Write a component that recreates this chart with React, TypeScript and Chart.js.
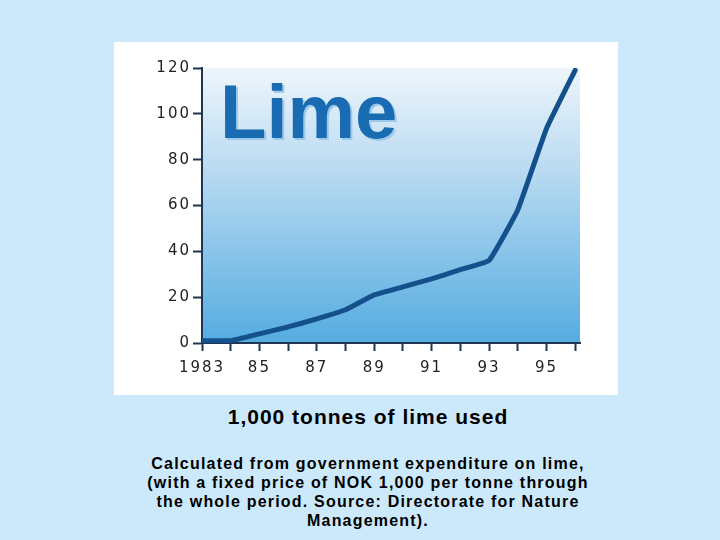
import { useEffect, useRef } from "react"
import { Chart, type ChartConfiguration, registerables } from "chart.js"

Chart.register(...registerables)

const years = [1983, 1984, 1985, 1986, 1987, 1988, 1989, 1990, 1991, 1992, 1993, 1994, 1995, 1996]
const limeUsed = [1, 1, 4, 7, 10.5, 14.5, 21, 24.5, 28, 32, 36, 58, 93.5, 119]
const xTickLabels = ["1983", "", "85", "", "87", "", "89", "", "91", "", "93", "", "95", ""]
const yTicks = [0, 20, 40, 60, 80, 100, 120]

const axisColor = "#1f3550"
const labelColor = "#222222"

const plotBackground = {
  id: "plotBackground",
  beforeDraw(chart: Chart) {
    const { ctx, chartArea } = chart
    if (!chartArea) return
    const g = ctx.createLinearGradient(0, chartArea.top, 0, chartArea.bottom)
    g.addColorStop(0, "#eef5fb")
    g.addColorStop(0.35, "#bcdcf2")
    g.addColorStop(1, "#55ace0")
    ctx.save()
    ctx.fillStyle = g
    ctx.fillRect(chartArea.left, chartArea.top, chartArea.right - chartArea.left, chartArea.bottom - chartArea.top)
    ctx.restore()
    // tick labels in the original are widely tracked
    ;(ctx as any).letterSpacing = "2px"
  },
}

const limeTitle = {
  id: "limeTitle",
  beforeDatasetsDraw(chart: Chart) {
    const { ctx, chartArea } = chart
    ctx.save()
    ;(ctx as any).letterSpacing = "0px"
    ctx.font = "bold 76px 'Liberation Sans', Arial, sans-serif"
    ctx.textAlign = "left"
    ctx.textBaseline = "alphabetic"
    ctx.fillStyle = "#9cc8ea"
    ctx.fillText("Lime", chartArea.left + 20, chartArea.top + 72)
    ctx.fillStyle = "#1a6cb2"
    ctx.fillText("Lime", chartArea.left + 18, chartArea.top + 70)
    ctx.restore()
  },
}

function LimeChart() {
  const chartRef = useRef<HTMLCanvasElement>(null)
  const chartInstance = useRef<Chart | null>(null)

  useEffect(() => {
    if (!chartRef.current) return
    const ctx = chartRef.current.getContext("2d")
    if (!ctx) return

    const config: ChartConfiguration<"line"> = {
      type: "line",
      data: {
        datasets: [
          {
            label: "1,000 tonnes of lime used",
            data: years.map((y, i) => ({ x: y, y: limeUsed[i] })),
            borderColor: "#13508c",
            borderWidth: 5,
            pointRadius: 0,
            tension: 0.1,
            borderCapStyle: "round",
            borderJoinStyle: "round",
            fill: false,
          },
        ],
      },
      options: {
        responsive: true,
        maintainAspectRatio: false,
        animation: false,
        layout: { padding: { top: 26, right: 38, left: 0, bottom: 0 } },
        plugins: {
          legend: { display: false },
          tooltip: { enabled: false },
        },
        scales: {
          x: {
            type: "linear",
            min: years[0],
            max: years[years.length - 1] + 0.17,
            afterFit: (scale) => {
              scale.height = 52
            },
            afterBuildTicks: (scale) => {
              scale.ticks = years.map((v) => ({ value: v }))
            },
            ticks: {
              autoSkip: false,
              maxRotation: 0,
              padding: 8,
              color: labelColor,
              font: { family: "'DejaVu Sans', Verdana, sans-serif", size: 15 },
              callback: (value) => xTickLabels[years.indexOf(Number(value))] ?? "",
            },
            grid: {
              drawOnChartArea: false,
              drawTicks: true,
              tickLength: 8,
              tickWidth: 2,
              color: axisColor,
            },
            border: { display: true, color: axisColor, width: 2 },
          },
          y: {
            min: yTicks[0],
            max: yTicks[yTicks.length - 1],
            afterFit: (scale) => {
              scale.width = 88
            },
            afterBuildTicks: (scale) => {
              scale.ticks = yTicks.map((v) => ({ value: v }))
            },
            ticks: {
              padding: 2,
              color: labelColor,
              font: { family: "'DejaVu Sans', Verdana, sans-serif", size: 15 },
            },
            grid: {
              drawOnChartArea: false,
              drawTicks: true,
              tickLength: 9,
              tickWidth: 2,
              color: axisColor,
            },
            border: { display: true, color: axisColor, width: 2 },
          },
        },
      },
      plugins: [plotBackground, limeTitle],
    }

    chartInstance.current = new Chart(ctx, config)

    return () => {
      if (chartInstance.current) {
        chartInstance.current.destroy()
        chartInstance.current = null
      }
    }
  }, [])

  return (
    <div style={{ position: "absolute", left: 114, top: 42, width: 504, height: 353, background: "#ffffff" }}>
      <canvas ref={chartRef} />
    </div>
  )
}

export default function App() {
  useEffect(() => {
    document.body.style.margin = "0"
    document.body.style.background = "#cce9fb"
  }, [])

  const textFont = "'Liberation Sans', Arial, sans-serif"

  return (
    <div style={{ position: "relative", width: 720, height: 540, background: "#cce9fb", overflow: "hidden" }}>
      <LimeChart />
      <div
        style={{
          position: "absolute",
          left: 110,
          top: 405,
          width: 516,
          textAlign: "center",
          fontFamily: textFont,
          fontWeight: "bold",
          fontSize: 21,
          lineHeight: "24px",
          letterSpacing: 1,
          color: "#000",
        }}
      >
        1,000 tonnes of lime used
      </div>
      <div
        style={{
          position: "absolute",
          left: 100,
          top: 454,
          width: 536,
          textAlign: "center",
          fontFamily: textFont,
          fontWeight: "bold",
          fontSize: 16,
          lineHeight: "19px",
          letterSpacing: 1.2,
          color: "#000",
        }}
      >
        Calculated from government expenditure on lime,
        <br />
        (with a fixed price of NOK 1,000 per tonne through
        <br />
        the whole period. Source: Directorate for Nature
        <br />
        Management).
      </div>
    </div>
  )
}
